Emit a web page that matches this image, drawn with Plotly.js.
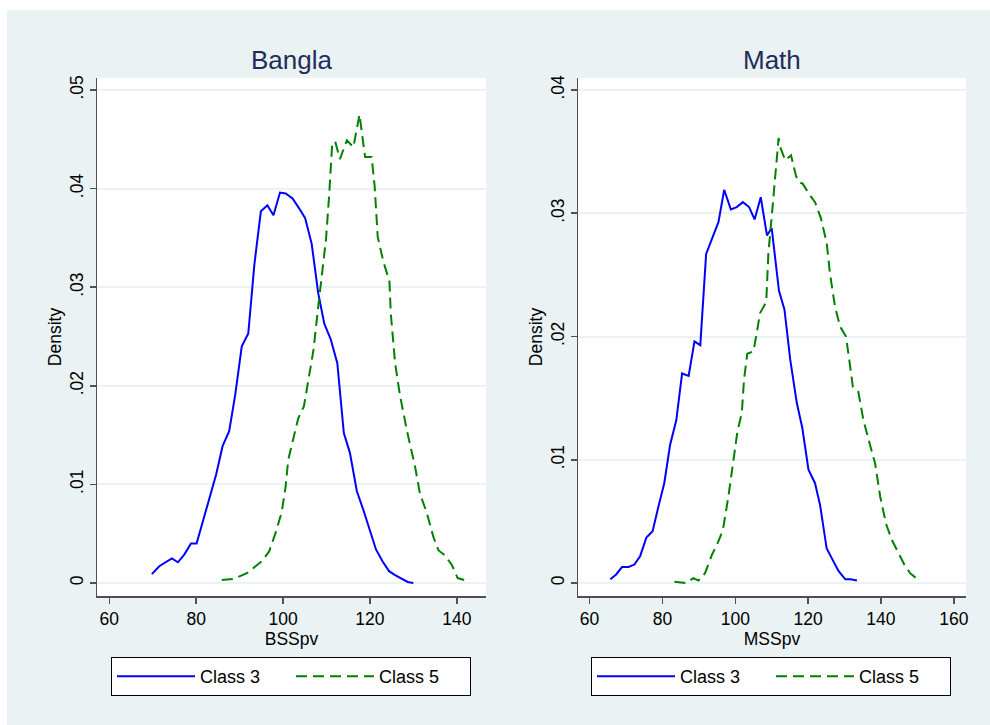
<!DOCTYPE html>
<html>
<head>
<meta charset="utf-8">
<script src="https://cdn.plot.ly/plotly-3.0.1.min.js"></script>
<style>
  html, body { margin: 0; padding: 0; background: #ffffff; width: 990px; height: 725px; overflow: hidden; }
  #chart { position: absolute; left: 7px; top: 10px; width: 983px; height: 715px; }
</style>
</head>
<body>
<div id="chart"></div>
<script>
// Bangla panel, Class 3 (x = BSSpv, y = density)
const banglaC3X = [69.8,71.5,74.4,75.8,77.3,78.8,80.1,81.5,83.2,84.6,86.1,87.6,89.0,90.5,92.0,93.4,94.9,96.4,97.8,99.3,100.6,102.2,103.7,105.1,106.6,108.1,109.5,111.0,112.5,114.0,115.4,117.0,118.5,119.9,121.4,122.9,124.4,125.8,127.4,128.7,130.0];
const banglaC3Y = [0.0009,0.0017,0.0025,0.0021,0.0029,0.0040,0.0040,0.0061,0.0089,0.0110,0.0139,0.0154,0.0191,0.0240,0.0253,0.0323,0.0377,0.0383,0.0373,0.0396,0.0395,0.0390,0.0380,0.0370,0.0344,0.0294,0.0263,0.0247,0.0223,0.0152,0.0132,0.0093,0.0074,0.0055,0.0034,0.0022,0.0012,0.0008,0.0004,0.0001,0.0000];
// Bangla panel, Class 5
const banglaC5X = [85.9,88.6,91.7,93.3,95.1,96.8,98.3,99.7,100.6,101.2,102.2,103.5,104.8,105.6,107.0,108.1,109.0,109.9,110.6,111.3,112.0,113.1,114.7,116.2,117.6,118.9,120.4,121.1,121.8,123.1,124.5,124.8,125.8,126.9,128.5,130.4,131.5,133.1,134.6,135.8,137.3,138.9,140.2,141.7];
const banglaC5Y = [0.0003,0.0004,0.0010,0.0016,0.0022,0.0032,0.0051,0.0072,0.0098,0.0125,0.0144,0.0167,0.0179,0.0200,0.0236,0.0280,0.0314,0.0349,0.0392,0.0444,0.0448,0.0430,0.0449,0.0442,0.0475,0.0432,0.0432,0.0402,0.0351,0.0326,0.0306,0.0274,0.0223,0.0191,0.0155,0.0118,0.0091,0.0071,0.0047,0.0033,0.0028,0.0018,0.0005,0.0003];
// Math panel, Class 3 (x = MSSpv)
const mathC3X = [65.7,67.3,68.9,70.7,72.3,73.9,75.6,77.3,78.9,80.5,82.1,83.8,85.4,87.2,88.8,90.4,92.0,93.8,95.4,96.95,98.8,100.4,102.1,103.8,105.3,107.0,108.7,110.0,112.0,113.5,115.1,116.9,118.4,120.1,121.9,123.3,125.1,126.7,128.3,130.2,131.7,133.4];
const mathC3Y = [0.0003,0.0007,0.0013,0.0013,0.0015,0.0022,0.0037,0.0042,0.0062,0.0081,0.0112,0.0132,0.0170,0.0168,0.0196,0.0193,0.0267,0.0280,0.0293,0.0319,0.0303,0.0305,0.0309,0.0305,0.0295,0.0313,0.0282,0.0288,0.0237,0.0222,0.0181,0.0146,0.0126,0.0092,0.0081,0.0063,0.0028,0.0019,0.0010,0.0003,0.0003,0.0002];
// Math panel, Class 5
const mathC5X = [83.3,86.5,88.5,89.9,91.7,93.6,94.95,96.6,98.1,99.5,100.6,101.8,102.4,103.3,105.0,105.9,106.8,108.5,109.1,110.0,110.95,111.9,112.3,113.7,115.3,116.7,117.6,118.5,120.4,121.9,123.5,125.1,126.0,127.4,128.8,130.4,131.3,132.3,133.8,135.2,137.0,138.4,139.8,141.4,143.0,144.8,146.4,148.0,150.5];
const mathC5Y = [0.0001,0.0000,0.0004,0.0002,0.0008,0.0023,0.0031,0.0043,0.0070,0.0101,0.0123,0.0138,0.0165,0.0186,0.0188,0.0203,0.0219,0.0228,0.0268,0.0297,0.0331,0.0361,0.0354,0.0343,0.0347,0.0330,0.0325,0.0324,0.0315,0.0309,0.0296,0.0276,0.0251,0.0224,0.0208,0.0200,0.0181,0.0159,0.0155,0.0132,0.0112,0.0097,0.0070,0.0048,0.0035,0.0024,0.0015,0.0008,0.0002];

const panelTitles = ["Bangla", "Math"];
const xTitles = ["BSSpv", "MSSpv"];
const seriesNames = ["Class 3", "Class 5"];
const xTicksLeft = [60, 80, 100, 120, 140];
const xTicksRight = [60, 80, 100, 120, 140, 160];
const yTickValsLeft = [0, 0.01, 0.02, 0.03, 0.04, 0.05];
const yTickTextLeft = ["0", ".01", ".02", ".03", ".04", ".05"];
const yTickValsRight = [0, 0.01, 0.02, 0.03, 0.04];
const yTickTextRight = ["0", ".01", ".02", ".03", ".04"];

const FONT = "Liberation Sans, Arial, Helvetica, sans-serif";
const BLUE = "#0000ff";
const GREEN = "#008000";
const BG = "#eaf2f3";
const GRID = "#eaf2f3";
const AXIS = "#505050";
const NAVY = "#1e2d5a";
const DASH = "11px,6px";

const traces = [
  {x: banglaC3X, y: banglaC3Y, xaxis: "x", yaxis: "y", name: seriesNames[0], legend: "legend", mode: "lines", line: {color: BLUE, width: 2}},
  {x: banglaC5X, y: banglaC5Y, xaxis: "x", yaxis: "y", name: seriesNames[1], legend: "legend", mode: "lines", line: {color: GREEN, width: 2, dash: DASH}},
  {x: mathC3X, y: mathC3Y, xaxis: "x2", yaxis: "y2", name: seriesNames[0], legend: "legend2", mode: "lines", line: {color: BLUE, width: 2}},
  {x: mathC5X, y: mathC5Y, xaxis: "x2", yaxis: "y2", name: seriesNames[1], legend: "legend2", mode: "lines", line: {color: GREEN, width: 2, dash: DASH}}
];

const PLOT_H = 715 - 68 - 129;
const PLOT_W = 983 - 90 - 24;
const leftDomain = [0, 389 / PLOT_W];
const rightDomain = [481 / PLOT_W, 1];

function xAxis(domain, range, ticks, title, anchor) {
  return {
    domain: domain, range: range, anchor: anchor,
    tickvals: ticks, ticktext: ticks.map(String),
    ticks: "outside", ticklen: 6, tickwidth: 1.5, tickcolor: AXIS,
    showline: true, linecolor: AXIS, linewidth: 1.5, mirror: false,
    showgrid: false, zeroline: false,
    tickfont: {family: FONT, size: 17.5, color: "#000"},
    title: {text: title, font: {family: FONT, size: 17.5, color: "#000"}, standoff: 2},
    fixedrange: true
  };
}
function yAxis(range, vals, text, anchor) {
  return {
    domain: [0, 1], range: range, anchor: anchor,
    tickvals: vals, ticktext: text, tickangle: -90,
    ticks: "outside", ticklen: 6, tickwidth: 1.5, tickcolor: AXIS,
    showline: true, linecolor: AXIS, linewidth: 1.5,
    showgrid: true, gridcolor: GRID, gridwidth: 2, zeroline: false,
    tickfont: {family: FONT, size: 17.5, color: "#000"},
    title: {text: "Density", font: {family: FONT, size: 17.5, color: "#000"}, standoff: 0},
    fixedrange: true
  };
}

const legendCommon = {
  orientation: "h", xref: "paper", yref: "paper", yanchor: "top", xanchor: "center",
  y: -61 / PLOT_H, bgcolor: "#ffffff", bordercolor: "#000000", borderwidth: 1,
  font: {family: FONT, size: 18, color: "#000"}, entrywidth: 86, itemwidth: 78, tracegroupgap: 0
};

const layout = {
  width: 983, height: 715,
  paper_bgcolor: BG, plot_bgcolor: "#ffffff",
  margin: {l: 90, r: 24, t: 68, b: 129, pad: 0},
  showlegend: true,
  xaxis: xAxis(leftDomain, [57.17, 146.73], xTicksLeft, xTitles[0], "y"),
  yaxis: yAxis([-0.00132, 0.05122], yTickValsLeft, yTickTextLeft, "x"),
  xaxis2: xAxis(rightDomain, [56.82, 163.35], xTicksRight, xTitles[1], "y2"),
  yaxis2: yAxis([-0.00105, 0.04097], yTickValsRight, yTickTextRight, "x2"),
  legend: Object.assign({}, legendCommon, {x: (284 - 90) / PLOT_W}),
  legend2: Object.assign({}, legendCommon, {x: (764 - 90) / PLOT_W}),
  annotations: [
    {text: panelTitles[0], xref: "paper", yref: "paper", x: (leftDomain[0] + leftDomain[1]) / 2, y: 1 + 18 / PLOT_H, xanchor: "center", yanchor: "middle", showarrow: false, font: {family: FONT, size: 26, color: NAVY}},
    {text: panelTitles[1], xref: "paper", yref: "paper", x: (rightDomain[0] + rightDomain[1]) / 2, y: 1 + 18 / PLOT_H, xanchor: "center", yanchor: "middle", showarrow: false, font: {family: FONT, size: 26, color: NAVY}}
  ]
};

Plotly.newPlot("chart", traces, layout, {displayModeBar: false, staticPlot: true});
</script>
</body>
</html>
